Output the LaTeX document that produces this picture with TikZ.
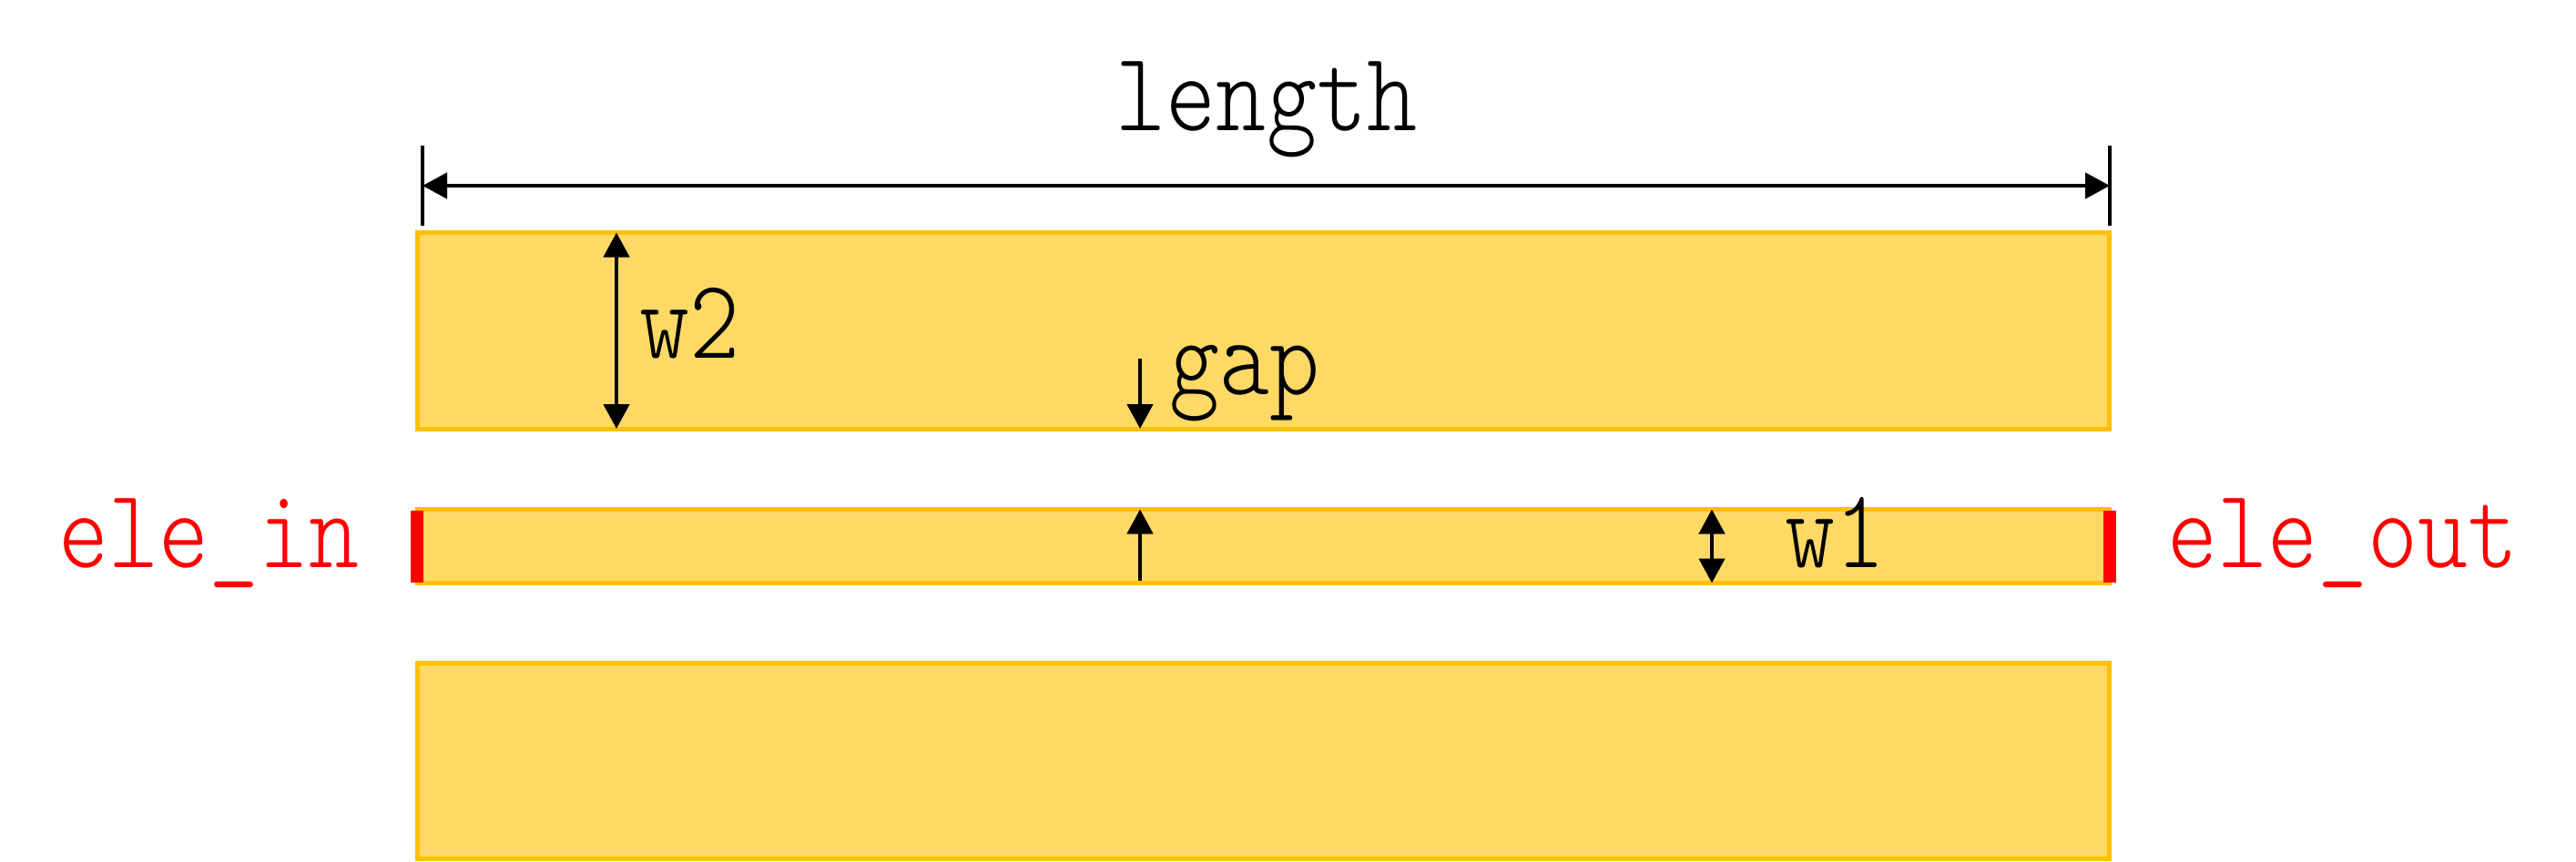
\documentclass[tikz,border=0pt]{standalone}
\usepackage{fontspec}
\usepackage{tikz}
\usetikzlibrary{positioning,arrows.meta}

\definecolor{stripfill}{HTML}{FFD966}
\definecolor{stripline}{HTML}{FFC000}
\newfontfamily\dimfam{lmmonolt10-regular.otf}[FakeStretch=0.845]
\newcommand{\dimfont}{\fontsize{35.3}{40}\selectfont\dimfam}

\begin{document}
\begin{tikzpicture}[>={Triangle[length=0.27cm,width=0.28cm]},
    strip/.style={draw=stripline, fill=stripfill, line width=0.05cm,
      minimum width=18.585cm, inner sep=0pt, outer sep=0pt},
    port/.style={fill=red, minimum width=0.14cm, minimum height=0.79cm,
      inner sep=0pt, outer sep=0pt},
    dim/.style={line width=1.3pt},
    lbl/.style={inner sep=0pt, font=\dimfont}]
  \useasboundingbox (0,0) rectangle (28.29,9.46);
  % strips
  \node[strip, minimum height=2.155cm] (top) at (13.877,5.8275) {};
  \node[strip, minimum height=0.81cm] (core) [below=0.885cm of top] {};
  \node[strip, minimum height=2.15cm] (bottom) [below=0.88cm of core] {};
  % electrodes
  \node[port] (inport) at (core.west) {};
  \node[port] (outport) at (core.east) {};
  \node[lbl, text=red, anchor=base east] (elein) at (3.95,3.23) {ele\_in};
  \node[lbl, text=red, anchor=base west] (eleout) at (23.80,3.23) {ele\_out};
  % length
  \coordinate (lenL) at (4.64,7.42);
  \coordinate (lenR) at (23.17,7.42);
  \draw[dim] (lenL) ++(0,0.44) -- ++(0,-0.88);
  \draw[dim] (lenR) ++(0,0.44) -- ++(0,-0.88);
  \draw[dim,<->] (lenL) -- (lenR);
  \node[lbl, anchor=base] (length) at (13.91,8.02) {length};
  % w2
  \coordinate (w2x) at (6.77,0);
  \draw[dim,<->] (top.north -| w2x) -- (top.south -| w2x);
  \node[lbl, anchor=base west] (w2) at (7.02,5.53) {w2};
  % gap
  \coordinate (gapx) at (12.52,5.52);
  \draw[dim,->] (gapx) -- (top.south -| gapx);
  \draw[dim,->,shorten <=0.03cm] (core.south -| gapx) -- (core.north -| gapx);
  \node[lbl, anchor=base west] (gap) at (12.84,5.13) {gap};
  % w1
  \coordinate (w1x) at (18.80,0);
  \draw[dim,<->] (core.south -| w1x) -- (core.north -| w1x);
  \node[lbl, anchor=base west] (w1) at (19.60,3.23) {w1};
\end{tikzpicture}
\end{document}
